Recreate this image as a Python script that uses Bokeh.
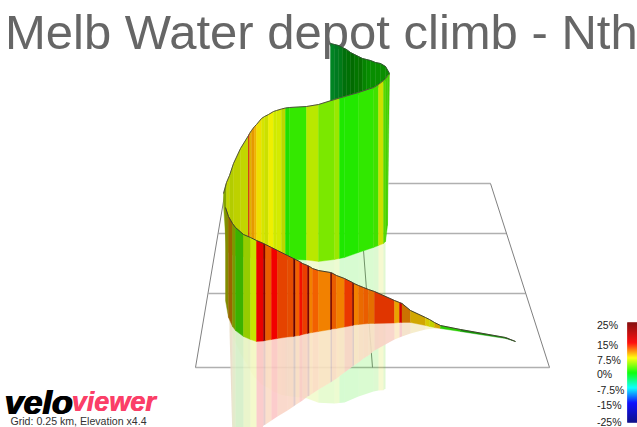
from bokeh.plotting import figure
from bokeh.embed import file_html
from bokeh.resources import INLINE
from bokeh.core.properties import value
import numpy as np

TITLE = "Melb Water depot climb - Nth"
CAPTION = "Grid: 0.25 km, Elevation x4.4"
LOGO_A = "velo"
LOGO_B = "viewer"
BAR_LABELS = ["25%", "15%", "7.5%", "0%", "-7.5%", "-15%", "-25%"]
BAR_LABEL_Y = [324, 344, 359, 373, 389, 404, 421]

# colour scale: gradient percent -> rgb
SCALE_G = [-25, -15, -7.5, 0, 7.5, 15, 25]
SCALE_R = [0, 0, 0, 0, 255, 255, 128]
SCALE_GR = [0, 0, 255, 255, 255, 0, 0]
SCALE_B = [128, 255, 255, 0, 0, 0, 0]

# front curtain (screen pixels)
front_x = [225,228,232,235,243,250,256,263,265,271,277,287,293,295,299,302,307,309,312,318,330,331.5,336,344,352,353.5,358,363,368,374,394,399,401.5,410,425,429,434,440,460,505,515]
front_top = [207,216,223,227,234,237,240,243,244,247,250,255,258,259,261,263,265,266,268,270,272,272.5,275,278,282,283,285,287,289,291,300,302,303,310,317,319,322,325,329,337,341]
front_bot = [300,317,326,330,336,339,341,340.5,340,339,338,336.5,336,335.5,335,334,333,332.5,332,331,329,328.5,328,326.5,325,324.5,324,323.5,323,323,322.5,322,322,322,325,326,327,328,331,338,341]
front_mirror = [323,330,440,440,440,440,440,425,424,420,416,410,406,404.5,402,400,396,395,393,389,382,381,378,372,366,365,362,358,355,350,339,337,336,333,329,328.5,328,328,331,338,341]
front_grade = [7,10,6,2.5,5.5,6.5,15,22,12,15,12.8,12.5,25,12,14.5,13,23,11,12,11,23,12,11,13.2,22,11,11.6,12,11.4,13.2,9.8,15.5,10.8,9,8,7,9,1.5,0.8,0.6]
front_shade = [.55,.6,.6,.7,.8,.9,.92,.8,.92,.95,.9,.9,.8,.95,.95,.92,.8,.95,.95,.95,.7,.92,.95,.92,.7,.95,.92,.92,.9,.88,.92,.85,.8,.82,.85,.82,.82,.8,.6,.45]

# back curtain
back_x = [223,226,229,233,240,248,249,251,254,256,261,264,268,273,276,281,285,289,306,318,334,339,344,358,373,378,383,385,387,389]
back_top = [193,182,175,163,148,135,133,130,126,124,118,116,114,111,110,108.5,107.5,107,106,104,99,97.5,96,92,87,84,80,78,75,73]
back_bot = [205,250,253,255,256,257,257,257.5,258,258,258,258,258,258.5,258.5,259,259,259,259.5,261,259,258,257,252,247,245,243,241,225,74]
back_grade = [6,6.8,6.6,6.8,6.8,15,9,10,9.4,8,7,6.8,7.5,6.6,6.8,6.4,1,1.7,6,4,5,1,1.1,1.6,2.2,6.8,3,2.5,2.5]
back_shade = [.65,.84,.8,.82,.84,.82,.88,.9,.94,.94,.9,.88,.94,.92,.92,.85,.88,.91,.91,.91,.91,.91,.91,.91,.88,.88,.85,.82,.8]

# inner face seen above the curve
inner_x = [330,334,338,342,346,350,354,358,362,366,370,375,380,385,389]
inner_top = [43,44,45,47,49,52,54,56,58,59,60,62,63,66,73]
inner_bot = [101,100,99,98,97,96,95,94,92,91,90,88,86,80,74]
inner_grade = [-2,-2,-1.5,-0.8,-0.4,0.1,0.2,0.5,0.3,0.4,0.4,0.5,0.5,0.6]
inner_shade = [.52,.48,.48,.44,.44,.42,.46,.45,.52,.55,.56,.56,.56,.55]

# floor grid
grid_h_y = [183, 233, 293, 367]
grid_h_x0 = [388, 218, 208, 195]
grid_h_x1 = [490, 506, 525, 549]
grid_s_x0 = [195, 490, 363]
grid_s_y0 = [367, 183, 250]
grid_s_x1 = [226, 549, 372]
grid_s_y1 = [183, 367, 367]


def colour(g, shade=1.0):
    r = np.interp(g, SCALE_G, SCALE_R) * shade
    gg = np.interp(g, SCALE_G, SCALE_GR) * shade
    b = np.interp(g, SCALE_G, SCALE_B) * shade
    return "#%02x%02x%02x" % (int(r), int(gg), int(b))


def band(p, x, top, bot, grades, shades, alpha=1.0, xmin=None):
    xs, ys, cs = [], [], []
    for i in range(len(grades)):
        x0, x1 = x[i], x[i + 1]
        if xmin is not None:
            x0, x1 = max(x0, xmin), max(x1, xmin)
        xs.append([x0, x1, x1, x0])
        ys.append([top[i], top[i + 1], bot[i + 1], bot[i]])
        cs.append(colour(grades[i], shades[i]))
    if alpha < 1:
        p.patches(xs, ys, fill_color=cs, fill_alpha=alpha, line_color=None)
    else:
        p.patches(xs, ys, fill_color=cs, fill_alpha=1.0, line_color=cs, line_alpha=1.0, line_width=0.4)


p = figure(width=637, height=427, x_range=(0, 637), y_range=(427, 0),
           output_backend="svg", toolbar_location=None, min_border=0,
           x_axis_location=None, y_axis_location=None, outline_line_color=None)
p.grid.visible = False

p.text([4.5], [31], text=[TITLE], text_font=value("Liberation Sans"), text_font_size="49px",
       text_color="#666666", text_baseline="alphabetic")

# grid
p.segment(grid_h_x0, grid_h_y, grid_h_x1, grid_h_y, line_color="#b0b0b0", line_width=1.5)
p.segment(grid_s_x0, grid_s_y0, grid_s_x1, grid_s_y1, line_color="#808080", line_width=1)

# reflections
bm = [b + 0.9 * (b - t) for t, b in zip(back_top, back_bot)]
n = back_x.index(385)
band(p, back_x[:n + 1], back_bot[:n + 1], bm[:n + 1], back_grade[:n], back_shade[:n], alpha=0.18, xmin=229)
front_xr = [max(v, 229) for v in front_x]
p.patch(front_xr + front_xr[::-1], front_bot + front_mirror[::-1], fill_color="#ffffff", fill_alpha=0.85, line_color=None)
band(p, front_x, front_bot, front_mirror, front_grade, front_shade, alpha=0.2, xmin=229)

# curtains
band(p, inner_x, inner_top, inner_bot, inner_grade, inner_shade)
p.line(inner_x, inner_top, line_color="#305030", line_width=1)
band(p, back_x, back_top, back_bot, back_grade, back_shade)
p.line(back_x, back_top, line_color="#505040", line_width=1)
band(p, front_x, front_top, front_bot, front_grade, front_shade)
p.line(front_x, front_top, line_color="#404030", line_width=1)

# colour bar
bar_g = np.arange(-25, 25, 0.5)
bar_c = [colour(g + 0.25) for g in bar_g]
p.quad(left=627, right=637, top=[372 - 2 * g - 1 for g in bar_g], bottom=[372 - 2 * g for g in bar_g],
       fill_color=bar_c, fill_alpha=1.0, line_color=bar_c, line_alpha=1.0, line_width=0.5)
p.text([596.5] * len(BAR_LABELS), BAR_LABEL_Y, text=BAR_LABELS, text_font=value("Liberation Sans"),
       text_font_size="10.5px", text_color="#222222", text_baseline="middle")

# logo
p.text([3.5, 4.2, 4.9], [401, 401, 401], text=[LOGO_A] * 3, text_font=value("Liberation Sans"), text_font_size="34px",
       text_font_style="bold italic", text_color="#000000", text_baseline="alphabetic")
p.text([71, 71.6], [401, 401], text=[LOGO_B] * 2, text_font=value("Liberation Sans"), text_font_size="27px",
       text_font_style="bold italic", text_color="#fb3f68", text_baseline="alphabetic")
p.text([10], [420], text=[CAPTION], text_font=value("Liberation Sans"), text_font_size="10.6px",
       text_color="#333333", text_baseline="alphabetic")

open("out.html", "w").write(file_html(p, INLINE))
